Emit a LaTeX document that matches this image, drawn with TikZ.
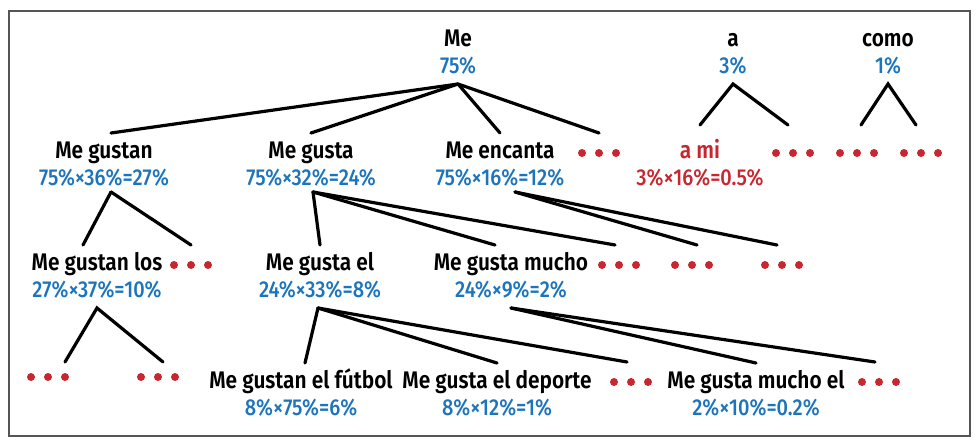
\documentclass[tikz,border=0pt]{standalone}
\usepackage{fontspec}
\setmainfont{Fira Sans}[UprightFont=* Medium, FakeStretch=0.87]
\newfontfamily\namefont{Fira Sans}[UprightFont=* SemiBold, FakeStretch=0.87]

\definecolor{probblue}{RGB}{28,117,188}
\definecolor{dotred}{RGB}{200,38,48}
\definecolor{framegray}{RGB}{85,85,85}

\tikzset{
  word/.style={font=\namefont\fontsize{24}{26}\selectfont, anchor=base, inner sep=0pt,
               text height=16pt, text depth=5pt, outer sep=9pt},
  prob/.style={font=\fontsize{23}{25}\selectfont, text=probblue, anchor=base,
               inner sep=0pt, text depth=0pt, outer sep=11pt},
  more/.style={minimum width=42pt, minimum height=10pt, inner sep=0pt, outer sep=15pt,
               path picture={\fill[dotred] (path picture bounding box.center) circle[radius=4pt]
                 ++(-17pt,0) circle[radius=4pt] ++(34pt,0) circle[radius=4pt];}},
  edge/.style={line width=3.2pt, line cap=round},
}

% a word node with its probability under it
\newcommand{\wordnode}[6][]{%
  % [extra], name, x, baseline y, word, probability
  \node[word,#1] (#2) at (#3,#4) {#5};
  \node[prob,#1] (#2p) at (#3,#4+27) {#6};
}

\begin{document}
\begin{tikzpicture}[x=1pt, y=-1pt]

\useasboundingbox (0,0) rectangle (976,444);
\draw[framegray, line width=1.5pt] (9,11) rectangle (970,436);

% --- top row ---
\wordnode{me}{458}{46}{Me}{75\%}
\wordnode{a}{733}{46}{a}{3\%}
\wordnode{como}{888}{46}{como}{1\%}

% --- second row ---
\wordnode{gustan}{104}{158}{Me gustan}{75\%×36\%=27\%}
\wordnode{gusta}{311}{158}{Me gusta}{75\%×32\%=24\%}
\wordnode{encanta}{500}{158}{Me encanta}{75\%×16\%=12\%}
\wordnode[text=dotred]{ami}{700}{158}{a mi}{3\%×16\%=0.5\%}
\node[more] (d1) at (599,153) {};
\node[more] (d2) at (793,153) {};
\node[more] (d3) at (857,153) {};
\node[more] (d4) at (921,153) {};

% --- third row ---
\wordnode{gustanlos}{97}{270}{Me gustan los}{27\%×37\%=10\%}
\wordnode{gustael}{320}{270}{Me gusta el}{24\%×33\%=8\%}
\wordnode{gustamucho}{511}{270}{Me gusta mucho}{24\%×9\%=2\%}
\node[more] (d5) at (191,265) {};
\node[more] (d6) at (619,265) {};
\node[more] (d7) at (692,265) {};
\node[more] (d8) at (782,265) {};

% --- bottom row ---
\wordnode{futbol}{301}{388}{Me gustan el fútbol}{8\%×75\%=6\%}
\wordnode{deporte}{497}{388}{Me gusta el deporte}{8\%×12\%=1\%}
\wordnode{muchoel}{756}{388}{Me gusta mucho el}{2\%×10\%=0.2\%}
\node[more] (d9) at (48,377) {};
\node[more] (d10) at (158,377) {};
\node[more] (d11) at (631,382) {};
\node[more] (d12) at (879,382) {};

% --- branches ---
\draw[edge] (mep.south) -- ([xshift=7pt]gustan.north);
\foreach \t in {gusta, encanta, d1}
  \draw[edge] (mep.south) -- (\t.north);

\draw[edge] ([yshift=8pt]ami.north) -- (ap.south) -- ([shift={(-5pt,8pt)}]d2.north);
\draw[edge] ([shift={(4pt,8pt)}]d3.north) -- (comop.south) -- ([shift={(-5pt,8pt)}]d4.north);

\draw[edge] ([shift={(7pt,4pt)}]gustanp.south) -- ([xshift=-14pt]gustanlos.north);
\draw[edge] ([shift={(7pt,4pt)}]gustanp.south) -- (d5.north);

\draw[edge] ([shift={(2pt,4pt)}]gustap.south) -- (gustael.north);
\draw[edge] ([shift={(2pt,4pt)}]gustap.south) -- ([xshift=-16pt]gustamucho.north);
\draw[edge] ([shift={(2pt,4pt)}]gustap.south) -- ([xshift=-4pt]d6.north);

\draw[edge] ([shift={(15pt,4pt)}]encantap.south) -- ([xshift=5pt]d7.north);
\draw[edge] ([shift={(15pt,4pt)}]encantap.south) -- ([xshift=-5pt]d8.north);

\draw[edge] ([shift={(17pt,-5pt)}]d9.north) -- (gustanlosp.south) -- ([shift={(5pt,-5pt)}]d10.north);

\draw[edge] ([xshift=-2pt]gustaelp.south) -- ([xshift=4pt]futbol.north);
\draw[edge] ([xshift=-2pt]gustaelp.south) -- (deporte.north);
\draw[edge] ([xshift=-2pt]gustaelp.south) -- ([xshift=-4pt]d11.north);

\draw[edge] (gustamuchop.south) -- (muchoel.north);
\draw[edge] (gustamuchop.south) -- ([xshift=-4pt]d12.north);

\end{tikzpicture}
\end{document}
